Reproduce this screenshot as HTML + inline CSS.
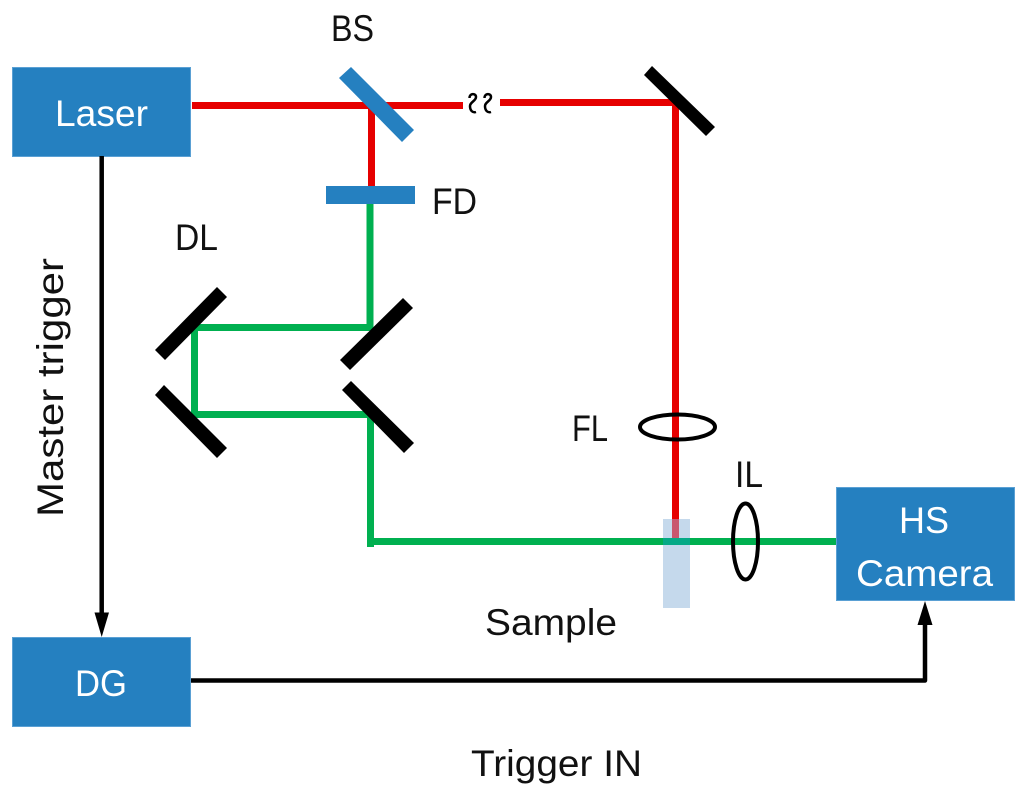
<!DOCTYPE html>
<html>
<head>
<meta charset="utf-8">
<style>
html,body{margin:0;padding:0;background:#fff;width:1024px;height:795px;overflow:hidden}
svg{display:block}
text{font-family:"Liberation Sans",sans-serif;font-size:37px;fill:#111}
text.w{fill:#fff}
</style>
</head>
<body>
<svg width="1024" height="795" viewBox="0 0 1024 795" xmlns="http://www.w3.org/2000/svg">
<!-- boxes -->
<g fill="#2580c0" stroke="#5aa0d4" stroke-width="1">
<rect x="12.5" y="67.5" width="178" height="89"/>
<rect x="12.5" y="637.5" width="178" height="89"/>
<rect x="836.5" y="487.5" width="178" height="113"/>
</g>
<!-- beams -->
<g fill="none" stroke-linecap="butt">
<path d="M192 105.500H463" stroke="#e60000" stroke-width="7"/>
<path d="M500 102.500H675" stroke="#e60000" stroke-width="7"/>
<path d="M371.500 105V187" stroke="#e60000" stroke-width="7"/>
<path d="M675.500 102V538" stroke="#e60000" stroke-width="7"/>
<path d="M370 204V330" stroke="#00b050" stroke-width="7"/>
<path d="M373 327.500H194.500V414.500H370.500" stroke="#00b050" stroke-width="7"/>
<path d="M370.500 411V547" stroke="#00b050" stroke-width="7"/>
<path d="M370 541.500H836" stroke="#00b050" stroke-width="7"/>
</g>
<!-- sample -->
<rect x="663" y="519" width="27" height="89" fill="#c5d9ec"/>
<rect x="672" y="519" width="7" height="19" fill="#c9566f"/>
<rect x="663" y="538" width="27" height="7" fill="#05a986"/>
<!-- beam splitter and filter -->
<polygon points="339,78 351,67 414,130 402,142" fill="#2580c0"/>
<rect x="326" y="186" width="89" height="18" fill="#2580c0"/>
<!-- mirrors -->
<g fill="#000">
<polygon points="644,75 652,66 715,127 706,136"/>
<polygon points="217,287 227,297 165,360 155,350"/>
<polygon points="164,385 155,395 217,458 227,448"/>
<polygon points="403,298 413,308 350,370 340,360"/>
<polygon points="351,381 342,390 404,453 414,443"/>
</g>
<!-- lenses -->
<ellipse cx="677.500" cy="427" rx="37.500" ry="12.500" fill="none" stroke="#000" stroke-width="4"/>
<ellipse cx="745.500" cy="541.500" rx="12.500" ry="38" fill="none" stroke="#000" stroke-width="4"/>
<!-- break squiggles -->
<g fill="none" stroke="#000" stroke-width="2.500">
<path d="M469.500 98C469.500 93 476 93 476 97C476 101 470 102 470 106C470 111 473 113 476 112"/>
<path d="M484.500 98C484.500 93 491 93 491 97C491 101 485 102 485 106C485 111 488 113 491 112"/>
</g>
<!-- arrows -->
<path d="M101.700 156V614" stroke="#000" stroke-width="4.500" fill="none"/>
<polygon points="101.700,637 94.500,612.500 109,612.500" fill="#000"/>
<path d="M191 680.500H925V622" stroke="#000" stroke-width="4.500" fill="none" stroke-linejoin="round"/>
<polygon points="925,601 917.500,625 932.500,625" fill="#000"/>
<!-- labels -->
<text class="w" x="55" y="126" textLength="93" lengthAdjust="spacingAndGlyphs">Laser</text>
<text class="w" x="75" y="696" textLength="52" lengthAdjust="spacingAndGlyphs">DG</text>
<text class="w" x="899" y="533" textLength="50" lengthAdjust="spacingAndGlyphs">HS</text>
<text class="w" x="856" y="586" textLength="137" lengthAdjust="spacingAndGlyphs">Camera</text>
<text x="331" y="41" textLength="43" lengthAdjust="spacingAndGlyphs">BS</text>
<text x="432" y="214" textLength="45" lengthAdjust="spacingAndGlyphs">FD</text>
<text x="175" y="250" textLength="43" lengthAdjust="spacingAndGlyphs">DL</text>
<text x="572" y="441" textLength="36" lengthAdjust="spacingAndGlyphs">FL</text>
<text x="735" y="487" textLength="28" lengthAdjust="spacingAndGlyphs">IL</text>
<text x="485" y="635" textLength="132" lengthAdjust="spacingAndGlyphs">Sample</text>
<text x="471" y="776" textLength="171" lengthAdjust="spacingAndGlyphs">Trigger IN</text>
<text transform="translate(63 517) rotate(-90)" x="0" y="0" textLength="259" lengthAdjust="spacingAndGlyphs">Master trigger</text>
</svg>
</body>
</html>
